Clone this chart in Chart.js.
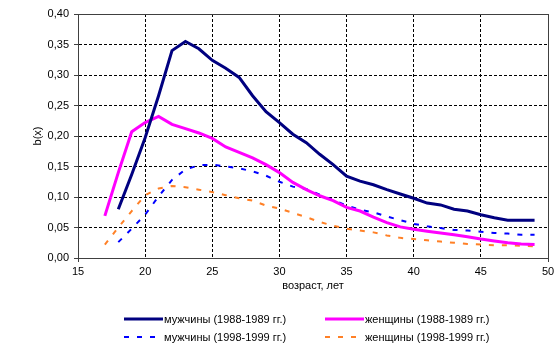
<!DOCTYPE html>
<html>
<head>
<meta charset="utf-8">
<script src="https://cdn.jsdelivr.net/npm/chart.js@4"></script>
<style>
  html, body { margin: 0; padding: 0; background: #fff; }
  #wrap { position: relative; width: 560px; height: 353px; }
  #legend { position: absolute; left: 0; top: 0; width: 560px; height: 353px; pointer-events: none;
    font-family: "Liberation Sans", Arial, sans-serif; font-size: 11px; color: #000; }
  .item { position: absolute; display: flex; align-items: center; height: 14px; white-space: nowrap; }
  .item svg { display: block; margin-right: 1px; }
</style>
</head>
<body>
<div id="wrap">
  <canvas id="chart" width="560" height="353"></canvas>
  <div id="legend"></div>
</div>
<script>
// Data
const ages = [17, 18, 19, 20, 21, 22, 23, 24, 25, 26, 27, 28, 29, 30, 31, 32, 33,
  34, 35, 36, 37, 38, 39, 40, 41, 42, 43, 44, 45, 46, 47, 48, 49];

const menOld = [null, 0.080, 0.137, 0.197, 0.266, 0.340, 0.355, 0.343, 0.324, 0.311,
  0.296, 0.266, 0.240, 0.222, 0.203, 0.189, 0.170, 0.153, 0.134, 0.126, 0.120,
  0.112, 0.105, 0.098, 0.090, 0.087, 0.080, 0.077, 0.071, 0.066, 0.062, 0.062, 0.062];

const womenOld = [0.069, 0.140, 0.207, 0.222, 0.232, 0.219, 0.212, 0.205, 0.196, 0.182,
  0.173, 0.164, 0.153, 0.140, 0.124, 0.112, 0.102, 0.094, 0.083, 0.077, 0.067,
  0.058, 0.051, 0.047, 0.044, 0.041, 0.038, 0.035, 0.031, 0.028, 0.025, 0.023, 0.022];

const menNew = [null, 0.026, 0.048, 0.071, 0.101, 0.128, 0.145, 0.152, 0.153, 0.150,
  0.147, 0.142, 0.135, 0.125, 0.117, 0.113, 0.104, 0.095, 0.086, 0.079, 0.075,
  0.068, 0.062, 0.056, 0.052, 0.049, 0.046, 0.045, 0.043, 0.041, 0.040, 0.038, 0.038];

const womenNew = [0.022, 0.050, 0.077, 0.103, 0.114, 0.118, 0.116, 0.112, 0.108, 0.103,
  0.098, 0.094, 0.086, 0.081, 0.074, 0.067, 0.059, 0.053, 0.048, 0.045, 0.042,
  0.037, 0.033, 0.031, 0.029, 0.027, 0.025, 0.023, 0.022, 0.021, 0.021, 0.020, 0.019];

const seriesLabels = [
  'мужчины (1988-1989 гг.)',
  'женщины (1988-1989 гг.)',
  'мужчины (1998-1999 гг.)',
  'женщины (1998-1999 гг.)'
];

const xTitle = 'возраст, лет';
const yTitle = 'b(x)';

// Styles
const colors = ['#000080', '#ff00ff', '#0000ff', '#ff8026'];
const widths = [3, 3, 2, 2];
const dashes = [[], [], [5, 8], [5, 8]];
const FONT = { family: '"Liberation Sans", Arial, sans-serif', size: 11 };

function toPoints(values) {
  return ages.map((a, i) => ({ x: a, y: values[i] }));
}

const seriesValues = [menOld, womenOld, menNew, womenNew];

const datasets = seriesValues.map((vals, i) => ({
  label: seriesLabels[i],
  data: toPoints(vals),
  borderColor: colors[i],
  backgroundColor: colors[i],
  borderWidth: widths[i],
  borderDash: dashes[i],
  pointRadius: 0,
  tension: 0,
  fill: false,
  order: i
}));

// Plot area frame (top / right edges like the original)
const frame = {
  id: 'frame',
  afterDatasetsDraw(chart) {
    const { ctx, chartArea: a } = chart;
    ctx.save();
    ctx.strokeStyle = '#404040';
    ctx.lineWidth = 1;
    ctx.strokeRect(Math.round(a.left) + 0.5, Math.round(a.top) + 0.5,
      Math.round(a.right - a.left), Math.round(a.bottom - a.top));
    ctx.restore();
  }
};

new Chart(document.getElementById('chart'), {
  type: 'line',
  data: { datasets },
  plugins: [frame],
  options: {
    responsive: false,
    animation: false,
    events: [],
    layout: { padding: { left: 0, right: 12, top: 14, bottom: 59 } },
    plugins: { legend: { display: false }, tooltip: { enabled: false } },
    scales: {
      x: {
        type: 'linear',
        min: 15,
        max: 50,
        afterFit(scale) { scale.height = 36; },
        ticks: { stepSize: 5, color: '#000', font: FONT, padding: 3, maxRotation: 0 },
        grid: {
          color: ctx => (ctx.tick && (ctx.tick.value === 15 || ctx.tick.value === 50)) ? 'rgba(0,0,0,0)' : '#000',
          tickColor: ctx => (ctx.tick && (ctx.tick.value === 15 || ctx.tick.value === 50)) ? '#404040' : 'rgba(0,0,0,0)',
          tickLength: 4,
          tickBorderDash: []
        },
        border: { color: '#404040', width: 1, dash: [3, 2] },
        title: { display: true, text: xTitle, color: '#000', font: FONT, padding: { top: 0, bottom: 1 } }
      },
      y: {
        min: 0,
        max: 0.4,
        afterFit(scale) { scale.width = 78; },
        ticks: {
          stepSize: 0.05,
          color: '#000',
          font: FONT,
          padding: 5,
          callback: v => v.toFixed(2).replace('.', ',')
        },
        grid: {
          color: ctx => (ctx.tick && (ctx.tick.value < 0.001 || ctx.tick.value > 0.399)) ? 'rgba(0,0,0,0)' : '#000',
          tickColor: '#404040',
          tickLength: 4,
          tickBorderDash: []
        },
        border: { color: '#404040', width: 1, dash: [3, 2] },
        title: { display: true, text: yTitle, color: '#000', font: FONT, padding: { top: 31, bottom: 0 } }
      }
    }
  }
});

// Legend: two columns, two rows, same order as the original
const legend = document.getElementById('legend');
const colLeft = [124, 325];
const rowTop = [312, 330];
seriesLabels.forEach((label, i) => {
  const item = document.createElement('div');
  item.className = 'item';
  item.style.left = colLeft[i % 2] + 'px';
  item.style.top = rowTop[Math.floor(i / 2)] + 'px';
  const dash = dashes[i].length ? dashes[i].join(',') : 'none';
  item.innerHTML =
    `<svg width="39" height="6"><line x1="0" y1="3" x2="39" y2="3" stroke="${colors[i]}"
      stroke-width="${widths[i]}" stroke-dasharray="${dash}"/></svg><span>${label}</span>`;
  legend.appendChild(item);
});
</script>
</body>
</html>
